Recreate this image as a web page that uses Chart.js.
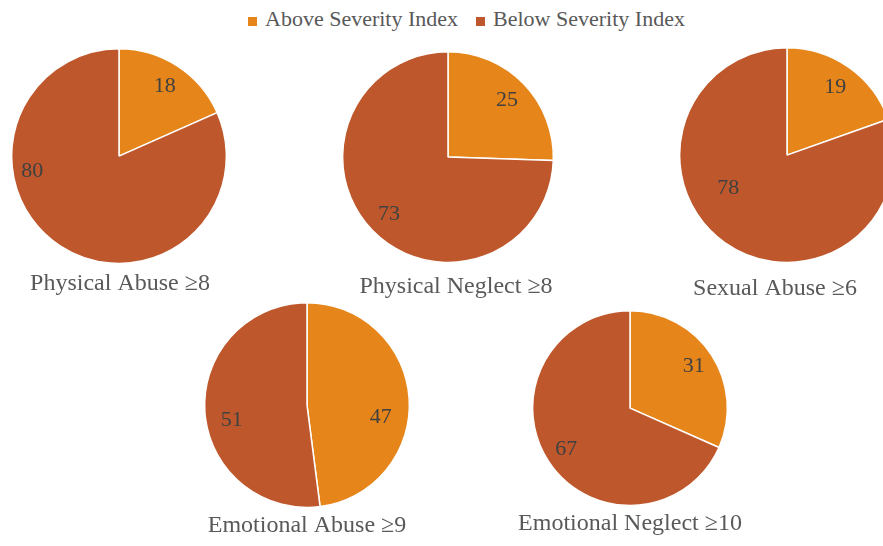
<!DOCTYPE html>
<html>
<head>
<meta charset="utf-8">
<script src="https://cdn.jsdelivr.net/npm/chart.js@4.4.0/dist/chart.umd.min.js"></script>
<style>
    html, body {
        margin: 0;
        padding: 0;
        width: 883px;
        height: 546px;
        overflow: hidden;
        background: #ffffff;
        font-family: 'Liberation Serif', 'Times New Roman', serif;
    }
    .legend {
        position: absolute;
        top: 6px;
        left: 248px;
        display: flex;
        align-items: baseline;
        font-size: 22px;
        color: #595959;
        white-space: nowrap;
    }
    .legend .swatch {
        display: inline-block;
        width: 9px;
        height: 9px;
        margin-right: 8px;
    }
    .legend .item {
        margin-right: 18px;
    }
    .pie {
        position: absolute;
    }
</style>
</head>
<body>
<div class="legend" id="legend"></div>

<script>
// Data
const categories = ['Above Severity Index', 'Below Severity Index'];
const panelTitles = ['Physical Abuse ≥8', 'Physical Neglect ≥8', 'Sexual Abuse ≥6', 'Emotional Abuse ≥9', 'Emotional Neglect ≥10'];
const aboveValues = [18, 25, 19, 47, 31];
const belowValues = [80, 73, 78, 51, 67];

const colors = ['#e5851a', '#be582c'];

// Placement of each pie on the page: centre, radius, title gap / x nudge,
// and label nudges (degrees, radius fraction) like Excel's best-fit labels
const panels = [
    { cx: 119, cy: 156, r: 108, gap: 5, titleDx: 1, labels: [[0, 0.78], [47, 0.82]] },
    { cx: 448, cy: 157, r: 106, gap: 9, titleDx: 8, labels: [[0, 0.78], [0, 0.78]] },
    { cx: 787, cy: 155, r: 108, gap: 11, titleDx: -12, labels: [[0, 0.78], [25, 0.63]] },
    { cx: 307, cy: 405, r: 103, gap: 3, titleDx: 0, labels: [[13, 0.73], [-8, 0.75]] },
    { cx: 630, cy: 408, r: 98, gap: 3, titleDx: 0, labels: [[0, 0.78], [0, 0.78]] }
];

// Legend
const legendEl = document.getElementById('legend');
categories.forEach((name, i) => {
    const item = document.createElement('span');
    item.className = 'item';
    item.innerHTML = '<span class="swatch" style="background:' + colors[i] + '"></span>' + name;
    legendEl.appendChild(item);
});

// Value labels inside the slices + title under the pie
const pieText = {
    id: 'pieText',
    afterDatasetsDraw(chart, args, opts) {
        const ctx = chart.ctx;
        const meta = chart.getDatasetMeta(0);
        const values = chart.data.datasets[0].data;
        ctx.save();
        ctx.font = '22px "Liberation Serif", serif';
        ctx.fillStyle = '#404040';
        ctx.textAlign = 'center';
        ctx.textBaseline = 'middle';
        meta.data.forEach((arc, i) => {
            const p = arc.getProps(['x', 'y', 'startAngle', 'endAngle', 'outerRadius'], true);
            const nudge = opts.labels[i];
            const mid = (p.startAngle + p.endAngle) / 2 + nudge[0] * Math.PI / 180;
            const d = p.outerRadius * nudge[1];
            ctx.fillText(values[i], p.x + Math.cos(mid) * d, p.y + Math.sin(mid) * d);
        });

        const area = chart.chartArea;
        ctx.font = '24px "Liberation Serif", serif';
        ctx.fillStyle = '#595959';
        ctx.fillText(opts.title, (area.left + area.right) / 2 + opts.titleDx, area.bottom + opts.gap + 14.4);
        ctx.restore();
    }
};

const canvasWidth = 280;

panels.forEach((panel, i) => {
    const titleBlock = panel.gap + 24 * 1.2 + 4;
    const canvas = document.createElement('canvas');
    canvas.className = 'pie';
    canvas.width = canvasWidth;
    canvas.height = Math.round(panel.r * 2 + titleBlock);
    canvas.style.left = (panel.cx - canvasWidth / 2) + 'px';
    canvas.style.top = (panel.cy - panel.r) + 'px';
    document.body.appendChild(canvas);

    new Chart(canvas, {
        type: 'pie',
        data: {
            labels: categories,
            datasets: [{
                data: [aboveValues[i], belowValues[i]],
                backgroundColor: colors,
                borderColor: '#ffffff',
                borderWidth: 1.5
            }]
        },
        options: {
            responsive: false,
            animation: false,
            layout: { padding: { top: 0, left: 0, right: 0, bottom: titleBlock } },
            plugins: {
                legend: { display: false },
                tooltip: { enabled: false },
                pieText: {
                    title: panelTitles[i],
                    titleDx: panel.titleDx,
                    gap: panel.gap,
                    labels: panel.labels
                }
            }
        },
        plugins: [pieText]
    });
});
</script>
</body>
</html>
